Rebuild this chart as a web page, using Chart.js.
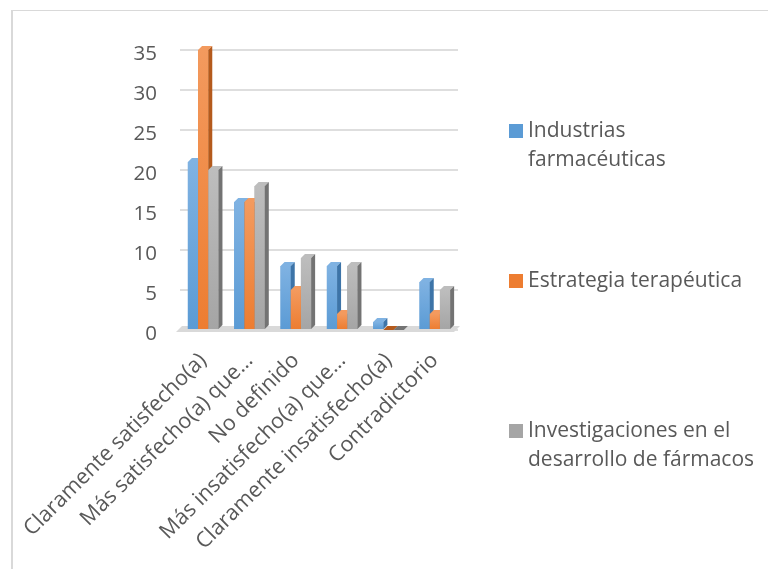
<!DOCTYPE html>
<html lang="es">
<head>
<meta charset="utf-8">
<title>Satisfacción</title>
<script src="https://cdn.jsdelivr.net/npm/chart.js@4.4.0/dist/chart.umd.min.js"></script>
<style>
  html, body { margin: 0; padding: 0; background: #fff; }
  #wrap { position: relative; width: 768px; height: 569px; }
  #frame {
    position: absolute; left: 11px; top: 10px; right: 0; bottom: 0;
    border-left: 2px solid #d9d9d9; border-top: 1px solid #d9d9d9;
    pointer-events: none;
  }
</style>
</head>
<body>
<div id="wrap">
  <canvas id="chart" width="768" height="569"></canvas>
  <div id="frame"></div>
</div>
<script>
// Categories and series
const categories = [
    'Claramente satisfecho(a)',
    'Más satisfecho(a) que…',
    'No definido',
    'Más insatisfecho(a) que…',
    'Claramente insatisfecho(a)',
    'Contradictorio'
];
const seriesNames = [
    'Industrias farmacéuticas',
    'Estrategia terapéutica',
    'Investigaciones en el desarrollo de fármacos'
];
const industrias = [21, 16, 8, 8, 1, 6];
const estrategia = [35, 16, 5, 2, 0, 2];
const investigaciones = [20, 18, 9, 8, 0, 5];
const yTicks = [0, 5, 10, 15, 20, 25, 30, 35];

const FONT = '"Open Sans", "DejaVu Sans", sans-serif';
const TEXT_COLOR = '#595959';

// front, top and side colours for each series
const palette = [
    { front: '#5B9BD5', top: '#7fb2e2', side: '#3d74a8' },
    { front: '#ED7D31', top: '#f39a5e', side: '#b45a1c' },
    { front: '#A5A5A5', top: '#bdbdbd', side: '#737373' }
];

const DEPTH = 4;

// Floor + 3D faces drawn from the bar elements the library laid out
const bars3d = {
    id: 'bars3d',
    beforeDatasetsDraw(chart) {
        const { ctx, chartArea } = chart;
        const base = chart.scales.y.getPixelForValue(0);
        ctx.save();
        ctx.fillStyle = '#d9d9d9';
        ctx.beginPath();
        ctx.moveTo(chartArea.left - 4, base + 2);
        ctx.lineTo(chartArea.right - 4, base + 2);
        ctx.lineTo(chartArea.right + 2, base - DEPTH);
        ctx.lineTo(chartArea.left + 2, base - DEPTH);
        ctx.closePath();
        ctx.fill();
        ctx.restore();
    },
    afterDatasetsDraw(chart) {
        const { ctx } = chart;
        const metas = chart.data.datasets.map((d, i) => chart.getDatasetMeta(i));
        ctx.save();
        for (let i = 0; i < categories.length; i++) {
            metas.forEach((meta, di) => {
                const el = meta.data[i];
                if (!el) return;
                const { x, y, width, base } = el.getProps(['x', 'y', 'width', 'base'], true);
                const l = x - width / 2, r = x + width / 2;
                const c = palette[di];
                // front
                const g = ctx.createLinearGradient(0, y, 0, base);
                g.addColorStop(0, c.top);
                g.addColorStop(1, c.front);
                ctx.fillStyle = g;
                ctx.fillRect(l, y, width, base - y);
                // top
                ctx.fillStyle = y === base ? c.side : c.top;
                ctx.beginPath();
                ctx.moveTo(l, y);
                ctx.lineTo(r, y);
                ctx.lineTo(r + DEPTH, y - DEPTH);
                ctx.lineTo(l + DEPTH, y - DEPTH);
                ctx.closePath();
                ctx.fill();
                // side
                ctx.fillStyle = c.side;
                ctx.beginPath();
                ctx.moveTo(r, y);
                ctx.lineTo(r + DEPTH, y - DEPTH);
                ctx.lineTo(r + DEPTH, base - DEPTH);
                ctx.lineTo(r, base);
                ctx.closePath();
                ctx.fill();
            });
        }
        ctx.restore();
    }
};

// Legend on the right, items spread out vertically, wrapped text
const sideLegend = {
    id: 'sideLegend',
    afterDraw(chart, args, opts) {
        const { ctx } = chart;
        ctx.save();
        ctx.font = opts.fontSize + 'px ' + FONT;
        ctx.textBaseline = 'middle';
        chart.data.datasets.forEach((ds, i) => {
            const cy = opts.top + i * opts.step;
            ctx.fillStyle = palette[i].front;
            ctx.fillRect(opts.x, cy - opts.box / 2, opts.box, opts.box);
            // simple word wrap
            const words = ds.label.split(' ');
            const lines = [];
            let line = '';
            words.forEach(w => {
                const test = line ? line + ' ' + w : w;
                if (ctx.measureText(test).width > opts.maxWidth && line) {
                    lines.push(line);
                    line = w;
                } else {
                    line = test;
                }
            });
            lines.push(line);
            ctx.fillStyle = TEXT_COLOR;
            lines.forEach((t, k) => {
                ctx.fillText(t, opts.x + opts.box + 5, cy + k * opts.lineHeight);
            });
        });
        ctx.restore();
    }
};

const config = {
    type: 'bar',
    data: {
        labels: categories,
        datasets: [
            { label: seriesNames[0], data: industrias, backgroundColor: palette[0].front },
            { label: seriesNames[1], data: estrategia, backgroundColor: palette[1].front },
            { label: seriesNames[2], data: investigaciones, backgroundColor: palette[2].front }
        ]
    },
    options: {
        responsive: false,
        animation: false,
        events: [],
        categoryPercentage: 0.66,
        barPercentage: 1.0,
        layout: {
            padding: { top: 50, right: 310, left: 0, bottom: 0 }
        },
        plugins: {
            legend: { display: false },
            tooltip: { enabled: false },
            sideLegend: {
                x: 509, top: 131, step: 150, box: 14,
                lineHeight: 29, maxWidth: 232, fontSize: 21
            }
        },
        scales: {
            x: {
                grid: { display: false },
                border: { display: false },
                ticks: {
                    color: TEXT_COLOR,
                    font: { family: FONT, size: 21.5 },
                    minRotation: 45,
                    maxRotation: 45,
                    autoSkip: false,
                    padding: 10
                },
                afterFit(scale) { scale.height = 239; }
            },
            y: {
                min: 0,
                max: 35,
                afterBuildTicks(scale) {
                    scale.ticks = yTicks.map(v => ({ value: v }));
                },
                grid: {
                    color: '#dedede',
                    lineWidth: 2,
                    drawTicks: false
                },
                border: { display: false },
                ticks: {
                    color: TEXT_COLOR,
                    font: { family: FONT, size: 20.5 },
                    padding: 23,
                    labelOffset: 4
                },
                afterFit(scale) { scale.width = 180; }
            }
        }
    },
    plugins: [bars3d, sideLegend]
};

new Chart(document.getElementById('chart'), config);
</script>
</body>
</html>
